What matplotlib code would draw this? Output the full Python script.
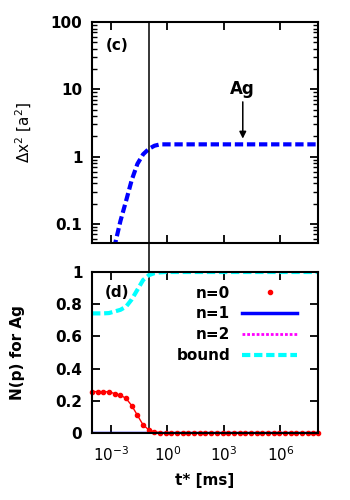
import matplotlib
matplotlib.use("Agg")
import matplotlib.pyplot as plt
from matplotlib.ticker import LogLocator, FixedLocator, NullFormatter, FuncFormatter

# time grid (ms)
t_grid = [1e-4, 2e-4, 4e-4, 8e-4, 1.6e-3, 3.2e-3, 6.4e-3, 1.28e-2, 2.56e-2,
          5.12e-2, 0.1024, 0.2048, 0.4096, 0.8192, 1.6384, 3.2768, 6.5536,
          13.1, 26.2, 52.4, 104.9, 209.7, 419.4, 838.9, 1677.7, 3355.4,
          6710.9, 1.34e4, 2.68e4, 5.37e4, 1.07e5, 2.15e5, 4.29e5, 8.59e5,
          1.72e6, 3.44e6, 6.87e6, 1.37e7, 2.75e7, 5.50e7, 1.0e8]

n0 = [0.257, 0.257, 0.257, 0.255, 0.245, 0.235, 0.215, 0.17, 0.11, 0.05,
      0.02, 0.007, 0.002] + [0.0] * 28
n1 = [0.0] * 41
n2 = [0.0] * 41
bound = [0.743, 0.743, 0.743, 0.745, 0.755, 0.765, 0.785, 0.83, 0.89, 0.95,
         0.98, 0.993, 0.998] + [1.0] * 28

# mean square displacement for Ag
t_dx = [2e-4, 4e-4, 8e-4, 1.6e-3, 3.2e-3, 6.4e-3, 1.28e-2, 2.56e-2, 5.12e-2,
        0.1024, 0.2048, 0.4096, 1.0, 1e2, 1e4, 1e6, 1e8]
dx2 = [0.006, 0.011, 0.023, 0.048, 0.11, 0.22, 0.45, 0.78, 1.08,
       1.3, 1.45, 1.52, 1.52, 1.52, 1.52, 1.52, 1.52]

t_mark = 0.1

plt.rcParams['font.size'] = 11
plt.rcParams['axes.linewidth'] = 1.5

fig = plt.figure(figsize=(3.5, 5), dpi=100)
ax1 = fig.add_axes([0.263, 0.514, 0.646, 0.442])
ax2 = fig.add_axes([0.263, 0.134, 0.646, 0.322])

for ax in (ax1, ax2):
    ax.set_xscale('log')
    ax.set_xlim(1e-4, 1e8)
    ax.xaxis.set_major_locator(FixedLocator([1e-3, 1e0, 1e3, 1e6]))
    ax.xaxis.set_minor_locator(FixedLocator([]))
    ax.tick_params(which='both', direction='in', top=True, right=True)
    ax.tick_params(which='major', length=6, width=1.3)
    ax.tick_params(which='minor', length=3.5, width=1.0)
    ax.tick_params(axis='y', pad=7)
    ax.tick_params(axis='x', pad=9)

# (c) panel
ax1.set_yscale('log')
ax1.set_ylim(0.052, 100)
ax1.yaxis.set_major_locator(FixedLocator([0.1, 1, 10, 100]))
ax1.yaxis.set_minor_locator(LogLocator(base=10, subs=range(2, 10)))
ax1.yaxis.set_minor_formatter(NullFormatter())
ax1.yaxis.set_major_formatter(FuncFormatter(lambda v, p: '%g' % v))
ax1.xaxis.set_major_formatter(NullFormatter())
for lab in ax1.get_yticklabels():
    lab.set_fontweight('bold')
l, = ax1.plot(t_dx, dx2, color='blue', lw=3, linestyle='--')
l.set_dashes((2.0, 0.9))
ax1.axvline(t_mark, color='black', lw=1.1)
ax1.set_ylabel(r'$\Delta$x$^2$ [a$^2$]', fontsize=11)
ax1.yaxis.set_label_coords(-0.255, 0.5)
ax1.text(0.11, 0.895, '(c)', transform=ax1.transAxes, fontweight='bold',
         ha='center', va='center')
ax1.text(1e4, 10, 'Ag', fontweight='bold', ha='center', va='center', fontsize=12)
ax1.annotate('', xy=(1e4, 1.85), xytext=(1e4, 6.5),
             arrowprops=dict(arrowstyle='-|>', color='black', lw=1.1,
                             mutation_scale=10, shrinkA=0, shrinkB=0))

# (d) panel
ax2.set_ylim(0, 1)
ax2.yaxis.set_major_locator(FixedLocator([0, 0.2, 0.4, 0.6, 0.8, 1.0]))
ax2.yaxis.set_major_formatter(FuncFormatter(lambda v, p: '%g' % v))
for lab in ax2.get_yticklabels():
    lab.set_fontweight('bold')
ax2.plot(t_grid, n1, color='blue', lw=2.5, label='n=1', zorder=2)
ax2.plot(t_grid, n2, color='magenta', lw=2, linestyle=(0, (1.0, 0.7)),
         label='n=2', zorder=2.1)
ax2.plot(t_grid, n0, color='red', lw=1.0, zorder=2.2)
ax2.plot(t_grid, n0, color='red', lw=0, marker='o', markersize=3,
         label='n=0', zorder=2.3, clip_on=False)
lb, = ax2.plot(t_grid, bound, color='cyan', lw=3, linestyle='--',
               label='bound', zorder=2.4)
lb.set_dashes((2.0, 0.9))
ax2.axvline(t_mark, ymin=0, ymax=1.18, color='black', lw=1.1, clip_on=False)
ax2.text(0.11, 0.875, '(d)', transform=ax2.transAxes, fontweight='bold',
         ha='center', va='center')
ax2.set_ylabel('N(p) for Ag', fontweight='bold')
ax2.yaxis.set_label_coords(-0.295, 0.5)
ax2.set_xlabel('t* [ms]', fontweight='bold', labelpad=6)

h, lab = ax2.get_legend_handles_labels()
order = [lab.index(s) for s in ['n=0', 'n=1', 'n=2', 'bound']]
ax2.legend([h[i] for i in order], [lab[i] for i in order],
           loc='upper right', bbox_to_anchor=(0.908, 0.915), frameon=False,
           markerfirst=False, handlelength=3.6, handletextpad=0.8,
           labelspacing=0.38, borderaxespad=0, borderpad=0,
           prop={'weight': 'bold', 'size': 11})

fig.savefig('out.png', dpi=100)
